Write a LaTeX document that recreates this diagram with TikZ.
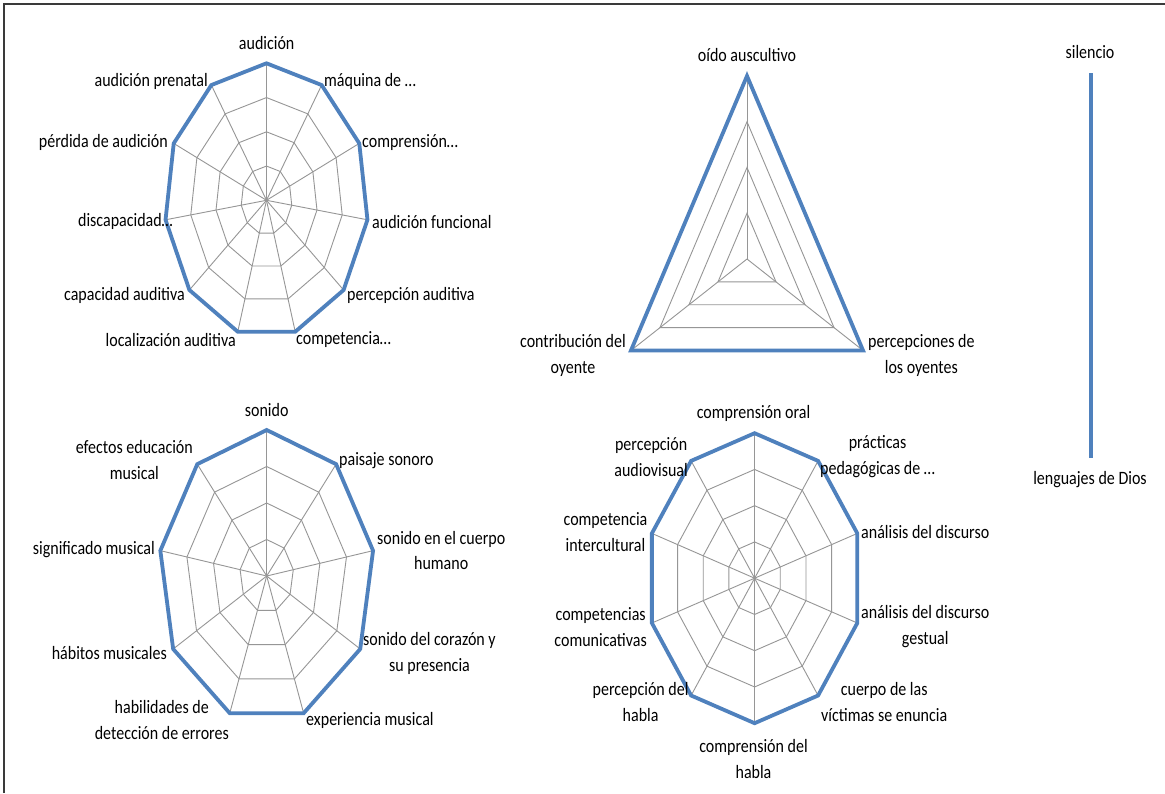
\documentclass[tikz,border=0pt]{standalone}
\usepackage{fontspec}
\setmainfont{Carlito}
\usetikzlibrary{calc,positioning}

\definecolor{serieazul}{HTML}{4F81BD}
\definecolor{rejillagris}{HTML}{969696}
\definecolor{marco}{HTML}{3A3A3A}

\tikzset{
  etiqueta/.style={font=\fontsize{16}{22}\selectfont, align=center, inner sep=0pt, yscale=1.18},
  rejilla/.style={draw=rejillagris, line width=0.9pt},
  serie/.style={draw=serieazul, line width=3.8pt},
}

% telarana: nombre, cx, cy, ejes, rx, ry
\newcommand{\telarana}[6]{
  \coordinate (#1-c) at (#2,#3);
  \foreach \k in {1,...,#4}
    \coordinate (#1-\k) at ({#2+#5*cos(90-360*(\k-1)/#4)},{#3-#6*sin(90-360*(\k-1)/#4)});
  \foreach \f in {0.25,0.5,0.75}
    \draw[rejilla] ($(#1-c)!\f!(#1-1)$) \foreach \k in {2,...,#4} { -- ($(#1-c)!\f!(#1-\k)$) } -- cycle;
  \foreach \k in {1,...,#4}
    \draw[rejilla] (#1-c) -- (#1-\k);
  \draw[serie] (#1-1) \foreach \k in {2,...,#4} { -- (#1-\k) } -- cycle;
}

\begin{document}
\begin{tikzpicture}[x=1pt,y=-1pt]
            \fill[white] (0,0) rectangle (1165,793);
            \useasboundingbox (0,0) rectangle (1165,793);
            \draw[marco, line width=1.5pt] (4,793) -- (4,4) -- (1165,4);

            \telarana{a}{266.5}{200.3}{11}{102}{137}
            \telarana{b}{747}{259}{3}{134}{183}
            \telarana{c}{266.7}{576}{9}{108}{146}
            \telarana{d}{754.6}{578.2}{10}{108}{145}

            \node[etiqueta] (a-t1) at (266.7,43.3) {audición};
            \node[etiqueta, anchor=west] (a-t2) at (324,81.7) {máquina de …};
            \node[etiqueta, anchor=west] (a-t3) at (362,142.7) {comprensión…};
            \node[etiqueta, anchor=west] (a-t4) at (372,221.7) {audición funcional};
            \node[etiqueta, anchor=west] (a-t5) at (347,295.7) {percepción auditiva};
            \node[etiqueta, anchor=west] (a-t6) at (296,340) {competencia…};
            \node[etiqueta, anchor=east] (a-t7) at (236,340) {localización auditiva};
            \node[etiqueta, anchor=east] (a-t8) at (185,295.7) {capacidad auditiva};
            \node[etiqueta, anchor=east] (a-t9) at (173,221.7) {discapacidad…};
            \node[etiqueta, anchor=east] (a-t10) at (168,142.7) {pérdida de audición};
            \node[etiqueta, anchor=east] (a-t11) at (208,81.7) {audición prenatal};

            \node[etiqueta] (b-t1) at (747,55) {oído auscultivo};
            \node[etiqueta, anchor=west] (b-t2) at (868,355) {percepciones de\\los oyentes};
            \node[etiqueta, anchor=east] (b-t3) at (626,355) {contribución del\\oyente};

            \node[etiqueta] (c-t1) at (266.7,410) {sonido};
            \node[etiqueta, anchor=west] (c-t2) at (339,460.7) {paisaje sonoro};
            \node[etiqueta, anchor=west] (c-t3) at (377,550.5) {sonido en el cuerpo\\humano};
            \node[etiqueta, anchor=west] (c-t4) at (363,653.7) {sonido del corazón y\\su presencia};
            \node[etiqueta, anchor=west] (c-t5) at (306,720) {experiencia musical};
            \node[etiqueta, anchor=east] (c-t6) at (229,720) {habilidades de\\detección de errores};
            \node[etiqueta, anchor=east] (c-t7) at (167,652.7) {hábitos musicales};
            \node[etiqueta, anchor=east] (c-t8) at (155,550) {significado musical};
            \node[etiqueta, anchor=east] (c-t9) at (193,460.3) {efectos educación\\musical};

            \node[etiqueta] (d-t1) at (753.5,413.3) {comprensión oral};
            \node[etiqueta, anchor=west] (d-t2) at (820,457) {prácticas\\pedagógicas de …};
            \node[etiqueta, anchor=west] (d-t3) at (861,532.3) {análisis del discurso};
            \node[etiqueta, anchor=west] (d-t4) at (861,627) {análisis del discurso\\gestual};
            \node[etiqueta, anchor=west] (d-t5) at (821,702) {cuerpo de las\\víctimas se enuncia};
            \node[etiqueta] (d-t6) at (753.5,759) {comprensión del\\habla};
            \node[etiqueta, anchor=east] (d-t7) at (688.7,702) {percepción del\\habla};
            \node[etiqueta, anchor=east] (d-t8) at (647,627) {competencias\\comunicativas};
            \node[etiqueta, anchor=east] (d-t9) at (647.6,532) {competencia\\intercultural};
            \node[etiqueta, anchor=east] (d-t10) at (688,457) {percepción\\audiovisual};

            \coordinate (s-arriba) at (1091,73);
            \coordinate (s-abajo) at (1091,458);
            \node[etiqueta] (silencio) at (1090,52) {silencio};
            \node[etiqueta] (lenguajes) at (1090,480) {lenguajes de Dios};
            \draw[serie] (s-arriba) -- (s-abajo);

        \end{tikzpicture}
\end{document}
